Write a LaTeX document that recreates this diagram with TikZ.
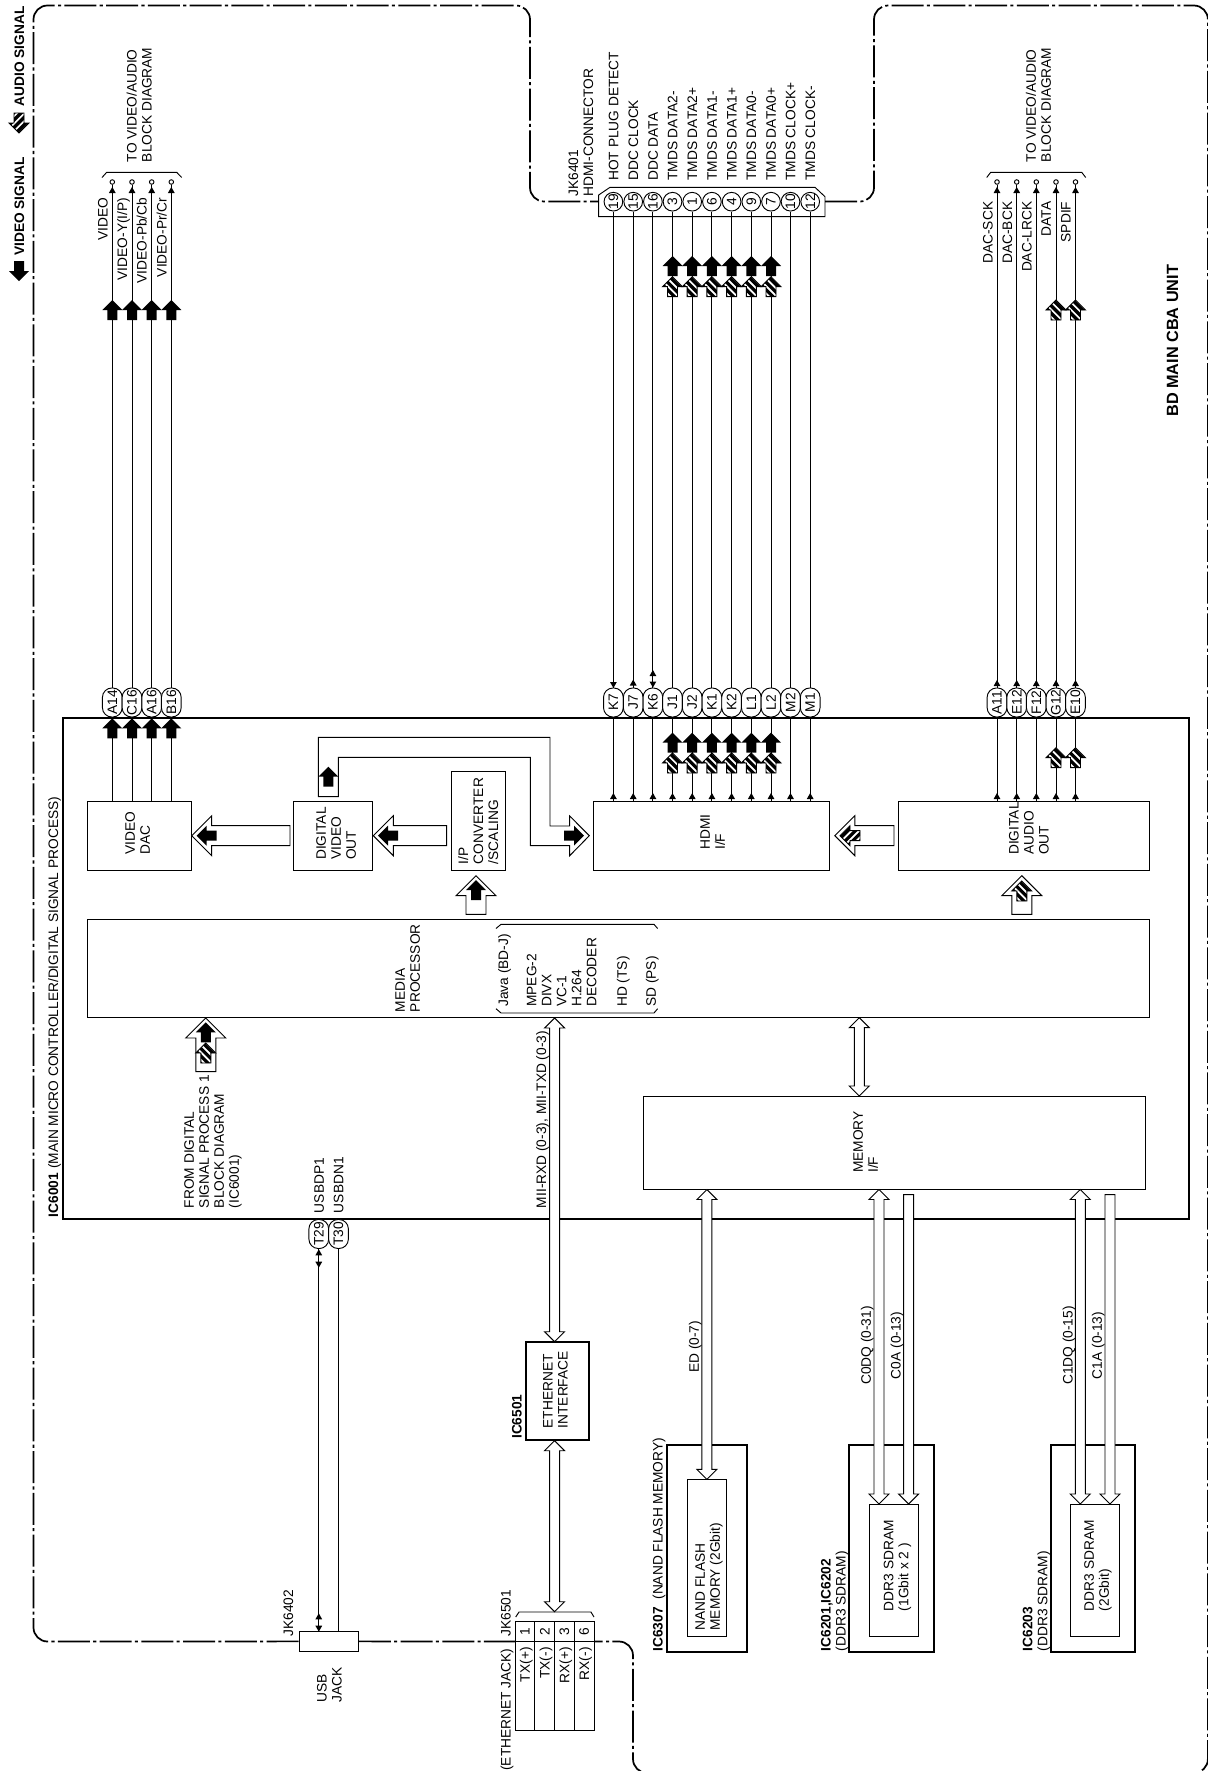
\documentclass[tikz,border=0pt]{standalone}
\usepackage{fontspec}
\setmainfont{Liberation Sans}
\usetikzlibrary{calc}
\newcommand{\headpath}{(0,0) -- (10,-10) -- (5,-10) -- (5,-20) -- (-5,-20) -- (-5,-10) -- (-10,-10) -- cycle}
\tikzset{
  textfont/.style={font=\fontsize{10.3}{11.25}\selectfont},
  boldfont/.style={font=\fontsize{10.3}{11.25}\selectfont\bfseries},
  lbl/.style={textfont,xshift=3.7pt,rotate=90,anchor=base west,align=left,inner sep=0pt},
  lbltop/.style={textfont,xshift=3.7pt,rotate=90,anchor=base east,align=left,inner sep=0pt},
  thinline/.style={line width=0.7pt},
  blockbox/.style={draw,thinline,inner sep=0pt},
  thickbox/.style={draw,line width=1.6pt,inner sep=0pt},
  pinbox/.style={draw,thinline,fill=white,textfont,rotate=90,rounded corners=7pt,minimum width=21.75pt,minimum height=14.8pt,inner sep=0pt},
  numcircle/.style={draw,thinline,fill=white,textfont,rotate=90,circle,minimum size=14pt,inner sep=0pt},
  ioend/.style={draw,thinline,fill=white,circle,minimum size=3.4pt,inner sep=0pt},
  border/.style={line width=1.3pt,rounded corners=10.5pt,dash pattern=on 24pt off 2.5pt on 2.3pt off 2.5pt},
  hollowbus/.style={draw,thinline,fill=white},
  fatarrow/.style args={#1/#2/#3}{hollowbus,to path={
    -- ($(\tikztostart)!#1!90:(\tikztotarget)$)
    -- ($(\tikztotarget)!#3!(\tikztostart)!#1!90:(\tikztotarget)$)
    -- ($(\tikztotarget)!#3!(\tikztostart)!#2!90:(\tikztotarget)$)
    -- (\tikztotarget)
    -- ($(\tikztotarget)!#3!(\tikztostart)!#2!-90:(\tikztotarget)$)
    -- ($(\tikztotarget)!#3!(\tikztostart)!#1!-90:(\tikztotarget)$)
    -- ($(\tikztostart)!#1!-90:(\tikztotarget)$) -- cycle}},
  fatboth/.style args={#1/#2/#3}{hollowbus,to path={
    -- ($(\tikztostart)!#3!(\tikztotarget)!#2!90:(\tikztotarget)$)
    -- ($(\tikztostart)!#3!(\tikztotarget)!#1!90:(\tikztotarget)$)
    -- ($(\tikztotarget)!#3!(\tikztostart)!#1!90:(\tikztotarget)$)
    -- ($(\tikztotarget)!#3!(\tikztostart)!#2!90:(\tikztotarget)$)
    -- (\tikztotarget)
    -- ($(\tikztotarget)!#3!(\tikztostart)!#2!-90:(\tikztotarget)$)
    -- ($(\tikztotarget)!#3!(\tikztostart)!#1!-90:(\tikztotarget)$)
    -- ($(\tikztostart)!#3!(\tikztotarget)!#1!-90:(\tikztotarget)$)
    -- ($(\tikztostart)!#3!(\tikztotarget)!#2!-90:(\tikztotarget)$) -- cycle}},
  bigarrow/.style={fatarrow=7.5pt/15pt/15pt},
  busarrow/.style={fatarrow=3.75pt/7.5pt/7.5pt},
  busboth/.style={fatboth=3.75pt/7.5pt/7.5pt},
  pics/solidhead/.style={code={\fill[black] \headpath;}},
  pics/hatchhead/.style={code={
    \begin{scope}
    \clip \headpath;
    \fill[white] (-12,2) rectangle (12,-22);
    \draw[black,line width=2.4pt] (-12,24) -- (12,0) (-12,16.5) -- (12,-7.5) (-12,9) -- (12,-15) (-12,1.5) -- (12,-22.5) (-12,-6) -- (12,-30) (-12,-13.5) -- (12,-37.5);
    \end{scope}
    \draw[black,thinline] \headpath;}},
  pics/tipup/.style={code={\fill[black] (0,0) -- (3.4,-6) -- (-3.4,-6) -- cycle;}},
  pics/tipdown/.style={code={\fill[black] (0,0) -- (3.4,6) -- (-3.4,6) -- cycle;}},
}
\begin{document}
\begin{tikzpicture}[x=0.75pt,y=0.75pt,yscale=-1,xscale=1]
\useasboundingbox (0,0) rectangle (1207,1771);

% Blocks
\node [thickbox,minimum width=844.4pt,minimum height=376pt] (ic6001) at (626.25,968.65) {};
\node [blockbox,minimum width=77.8pt,minimum height=52pt] (vdac) at (139.15,835.65) {};
\node [blockbox,minimum width=59.25pt,minimum height=52pt] (dvo) at (332.8,835.65) {};
\node [blockbox,minimum width=40.5pt,minimum height=74pt] (ipconv) at (478.3,821) {};
\node [blockbox,minimum width=177pt,minimum height=52pt] (hdmiif) at (711.65,835.65) {};
\node [blockbox,minimum width=187.9pt,minimum height=52pt] (dao) at (1023.75,835.65) {};
\node [blockbox,minimum width=796.3pt,minimum height=73.65pt] (media) at (618.15,968.4) {};
\node [blockbox,minimum width=376.5pt,minimum height=70pt] (memif) at (894,1142.65) {};
\node [thickbox,minimum width=47.5pt,minimum height=73.7pt] (ethif) at (557.65,1390.85) {};
\node [thickbox,minimum width=59.55pt,minimum height=155pt] (nandout) at (707,1548.3) {};
\node [blockbox,minimum width=29.25pt,minimum height=118pt] (nandin) at (707.2,1558) {};
\node [thickbox,minimum width=63.6pt,minimum height=155pt] (ddraout) at (891.4,1548.3) {};
\node [blockbox,minimum width=37.3pt,minimum height=99.4pt] (ddrain) at (893.85,1570.25) {};
\node [thickbox,minimum width=63.15pt,minimum height=155pt] (ddrbout) at (1092.9,1548.3) {};
\node [blockbox,minimum width=37pt,minimum height=99.4pt] (ddrbin) at (1095,1570.25) {};
\node [blockbox,fill=white,minimum width=44.5pt,minimum height=14.5pt] (usbjack) at (328.65,1641.35) {};

% Connector blocks
\coordinate (hdmiL) at (598.7,201.5);
\coordinate (hdmiR) at (825,201.5);
\coordinate (ethL) at (515,1641.5);
\coordinate (ethR) at (594,1641.5);
\draw [thinline,fill=white] (598.7,216.7) -- (598.7,195) -- (610,187.3) -- (815,187.3) -- (825,196.7) -- (825,216.7) -- cycle;
\draw [thinline,fill=white] (515,1621.7) rectangle (594,1730);
\draw [thinline] (515,1641.5) -- (594,1641.5) (534.7,1621.7) -- (534.7,1730) (554.5,1621.7) -- (554.5,1730) (574.3,1621.7) -- (574.3,1730);

% Unit border
\draw [border] (usbjack.west) -- (33.5,1641.5) -- (33.5,5.5) -- (530,5.5) -- (530,201.5) -- (hdmiL);
\draw [border] (hdmiR) -- (874,201.5) -- (874,5.5) -- (1207.9,5.5) -- (1207.9,1773) -- (633,1773) -- (633,1641.5) -- (ethR);
\draw [border] (usbjack.east) -- (ethL);

% Pins: video
\node [pinbox] (A14) at (112.3,702.5) {A14};
\node [pinbox] (C16) at (132,702.5) {C16};
\node [pinbox] (A16) at (151.7,702.5) {A16};
\node [pinbox] (B16) at (171.3,702.5) {B16};
% Pins: hdmi
\node [pinbox] (K7) at (613.4,702.5) {K7};
\node [pinbox] (J7) at (633.2,702.5) {J7};
\node [pinbox] (K6) at (652.9,702.5) {K6};
\node [pinbox] (J1) at (672.5,702.5) {J1};
\node [pinbox] (J2) at (692.2,702.5) {J2};
\node [pinbox] (K1) at (711.9,702.5) {K1};
\node [pinbox] (K2) at (731.6,702.5) {K2};
\node [pinbox] (L1) at (751.3,702.5) {L1};
\node [pinbox] (L2) at (771,702.5) {L2};
\node [pinbox] (M2) at (790.5,702.5) {M2};
\node [pinbox] (M1) at (810.2,702.5) {M1};
% Pins: audio
\node [pinbox] (A11) at (997,702.5) {A11};
\node [pinbox] (E12) at (1016.7,702.5) {E12};
\node [pinbox] (F12) at (1036.3,702.5) {F12};
\node [pinbox] (G12) at (1056,702.5) {G12};
\node [pinbox] (E10) at (1075.5,702.5) {E10};
% Pins: usb
\node [pinbox] (T29) at (318.8,1234) {T29};
\node [pinbox] (T30) at (338.5,1234) {T30};

% Hdmi connector circles
\node [numcircle] (c19) at (613.4,201.7) {19};
\node [numcircle] (c15) at (633.2,201.7) {15};
\node [numcircle] (c16) at (652.9,201.7) {16};
\node [numcircle] (c3) at (672.5,201.7) {3};
\node [numcircle] (c1) at (692.2,201.7) {1};
\node [numcircle] (c6) at (711.9,201.7) {6};
\node [numcircle] (c4) at (731.6,201.7) {4};
\node [numcircle] (c9) at (751.3,201.7) {9};
\node [numcircle] (c7) at (771,201.7) {7};
\node [numcircle] (c10) at (790.5,201.7) {10};
\node [numcircle] (c12) at (810.2,201.7) {12};

% Output terminals
\node [ioend] (endA14) at (112.3,182) {};
\node [ioend] (endC16) at (132,182) {};
\node [ioend] (endA16) at (151.7,182) {};
\node [ioend] (endB16) at (171.3,182) {};
\node [ioend] (endA11) at (997,182) {};
\node [ioend] (endE12) at (1016.7,182) {};
\node [ioend] (endF12) at (1036.3,182) {};
\node [ioend] (endG12) at (1056,182) {};
\node [ioend] (endE10) at (1075.5,182) {};

%Straight Lines: video
\draw [thinline] (endA14.south) -- (A14.east) (A14.west) -- (vdac.north -| A14);
\draw [thinline] (endC16.south) -- (C16.east) (C16.west) -- (vdac.north -| C16);
\draw [thinline] (endA16.south) -- (A16.east) (A16.west) -- (vdac.north -| A16);
\draw [thinline] (endB16.south) -- (B16.east) (B16.west) -- (vdac.north -| B16);
%Straight Lines: hdmi
\draw [thinline] (c19.west) -- (K7.east) (K7.west) -- (hdmiif.north -| K7);
\draw [thinline] (c15.west) -- (J7.east) (J7.west) -- (hdmiif.north -| J7);
\draw [thinline] (c16.west) -- (K6.east) (K6.west) -- (hdmiif.north -| K6);
\draw [thinline] (c3.west) -- (J1.east) (J1.west) -- (hdmiif.north -| J1);
\draw [thinline] (c1.west) -- (J2.east) (J2.west) -- (hdmiif.north -| J2);
\draw [thinline] (c6.west) -- (K1.east) (K1.west) -- (hdmiif.north -| K1);
\draw [thinline] (c4.west) -- (K2.east) (K2.west) -- (hdmiif.north -| K2);
\draw [thinline] (c9.west) -- (L1.east) (L1.west) -- (hdmiif.north -| L1);
\draw [thinline] (c7.west) -- (L2.east) (L2.west) -- (hdmiif.north -| L2);
\draw [thinline] (c10.west) -- (M2.east) (M2.west) -- (hdmiif.north -| M2);
\draw [thinline] (c12.west) -- (M1.east) (M1.west) -- (hdmiif.north -| M1);
%Straight Lines: audio
\draw [thinline] (endA11.south) -- (A11.east) (A11.west) -- (dao.north -| A11);
\draw [thinline] (endE12.south) -- (E12.east) (E12.west) -- (dao.north -| E12);
\draw [thinline] (endF12.south) -- (F12.east) (F12.west) -- (dao.north -| F12);
\draw [thinline] (endG12.south) -- (G12.east) (G12.west) -- (dao.north -| G12);
\draw [thinline] (endE10.south) -- (E10.east) (E10.west) -- (dao.north -| E10);
%Straight Lines: usb
\draw [thinline] (T29.west) -- (usbjack.north -| T29);
\draw [thinline] (T30.west) -- (usbjack.north -| T30);

%Braces
\draw [thinline] (102,177.5) -- (106.7,172.3) -- (176.7,172.3) -- (181.7,177.5);
\draw [thinline] (986.7,177.5) -- (990.7,172.3) -- (1081.7,172.3) -- (1085.7,177.5);
\draw [thinline] (496,928.5) -- (501,924.3) -- (654,924.3) -- (657.6,928.5);
\draw [thinline] (496,1008.7) -- (501,1013) -- (654,1013) -- (657.6,1008.7);
\draw [thinline] (515.7,1617) -- (519,1612) -- (591,1612) -- (594,1617);

%Small tips
\pic at (112.3,187) {tipup};
\pic at (132,187) {tipup};
\pic at (151.7,187) {tipup};
\pic at (171.3,187) {tipup};
\pic at (997,187) {tipup};
\pic at (1016.7,187) {tipup};
\pic at (1036.3,187) {tipup};
\pic at (1056,187) {tipup};
\pic at (1075.5,187) {tipup};
\pic at (613.4,688) {tipdown};
\pic at (633.2,679.5) {tipup};
\pic at (652.9,670) {tipup};
\pic at (652.9,687.5) {tipdown};
\pic at (997,680) {tipup};
\pic at (1016.7,680) {tipup};
\pic at (1036.3,680) {tipup};
\pic at (1056,680) {tipup};
\pic at (1075.5,680) {tipup};
\pic at (613.4,793) {tipup};
\pic at (633.2,793) {tipup};
\pic at (652.9,793) {tipup};
\pic at (672.5,793) {tipup};
\pic at (692.2,793) {tipup};
\pic at (711.9,793) {tipup};
\pic at (731.6,793) {tipup};
\pic at (751.3,793) {tipup};
\pic at (771,793) {tipup};
\pic at (790.5,793) {tipup};
\pic at (810.2,793) {tipup};
\pic at (997,793) {tipup};
\pic at (1016.7,793) {tipup};
\pic at (1036.3,793) {tipup};
\pic at (1056,793) {tipup};
\pic at (1075.5,793) {tipup};
\pic at (318.8,1249.3) {tipup};
\pic at (318.8,1267.7) {tipdown};
\pic at (318.8,1613.3) {tipup};
\pic at (318.8,1631.7) {tipdown};

%Signal heads: video
\pic at (112.3,300) {solidhead};
\pic at (132,300) {solidhead};
\pic at (151.7,300) {solidhead};
\pic at (171.3,300) {solidhead};
\pic at (112.3,718.3) {solidhead};
\pic at (132,718.3) {solidhead};
\pic at (151.7,718.3) {solidhead};
\pic at (171.3,718.3) {solidhead};
%Signal heads: hdmi
\pic at (672.5,276.7) {hatchhead};
\pic at (692.2,276.7) {hatchhead};
\pic at (711.9,276.7) {hatchhead};
\pic at (731.6,276.7) {hatchhead};
\pic at (751.3,276.7) {hatchhead};
\pic at (771,276.7) {hatchhead};
\pic at (672.5,256) {solidhead};
\pic at (692.2,256) {solidhead};
\pic at (711.9,256) {solidhead};
\pic at (731.6,256) {solidhead};
\pic at (751.3,256) {solidhead};
\pic at (771,256) {solidhead};
\pic at (672.5,753) {hatchhead};
\pic at (692.2,753) {hatchhead};
\pic at (711.9,753) {hatchhead};
\pic at (731.6,753) {hatchhead};
\pic at (751.3,753) {hatchhead};
\pic at (771,753) {hatchhead};
\pic at (672.5,732.7) {solidhead};
\pic at (692.2,732.7) {solidhead};
\pic at (711.9,732.7) {solidhead};
\pic at (731.6,732.7) {solidhead};
\pic at (751.3,732.7) {solidhead};
\pic at (771,732.7) {solidhead};
%Signal heads: audio
\pic at (1056,300) {hatchhead};
\pic at (1075.5,300) {hatchhead};
\pic at (1056,747.7) {hatchhead};
\pic at (1075.5,747.7) {hatchhead};
%Signal heads: legend
\pic at (19,281) [rotate=180] {solidhead};
\pic at (19,133) [rotate=180,xscale=-1] {hatchhead};

%Wide Arrows
\coordinate (dacin) at (191.7,835.7);
\coordinate (dvoleft) at (290,835.7);
\coordinate (dvoin) at (373.3,835.7);
\coordinate (ipleft) at (446.7,835.7);
\coordinate (ipin) at (476,875.7);
\coordinate (medtopa) at (476,914.3);
\coordinate (daoin) at (1021.8,875.7);
\coordinate (medtopb) at (1021.8,914.3);
\coordinate (hdmiaudin) at (834.8,835.7);
\coordinate (daoleft) at (894,835.7);
\coordinate (medbot) at (205.8,1018);
\coordinate (fromdsp) at (205.8,1071.7);
\draw [bigarrow] (dvoleft) to (dacin);
\draw [bigarrow] (ipleft) to (dvoin);
\draw [bigarrow] (medtopa) to (ipin);
\draw [bigarrow] (medtopb) to (daoin);
\draw [bigarrow] (daoleft) to (hdmiaudin);
\draw [bigarrow] (fromdsp) to (medbot);
\coordinate (dvoout) at (328.3,796.7);
\coordinate (hdmividin) at (589.3,835.7);
\draw [hollowbus] (dvoout) -- (318.3,796.7) -- (318.3,737.3) -- (550,737.3) -- (550,826) -- (569.7,826) -- (569.7,816) -- (hdmividin) -- (569.7,855.7) -- (569.7,845.7) -- (530.3,845.7) -- (530.3,757.3) -- (338.3,757.3) -- (338.3,796.7) -- cycle;
\pic at (196.7,835.7) [rotate=90] {solidhead};
\pic at (378,835.7) [rotate=90] {solidhead};
\pic at (476,880) {solidhead};
\pic at (328.3,766.7) {solidhead};
\pic at (584,835.7) [rotate=-90] {solidhead};
\pic at (840,835.7) [rotate=90] {hatchhead};
\pic at (1021.8,881) {hatchhead};
\pic at (205.8,1043) {hatchhead};
\pic at (205.8,1022.3) {solidhead};

%Bus Arrows
\coordinate (miitop) at (554.6,1018);
\coordinate (miibot) at (554.6,1341.7);
\coordinate (ethbot) at (554.6,1440.7);
\coordinate (jacktop) at (554.6,1611.7);
\coordinate (medmem) at (859.3,1017.7);
\coordinate (memmed) at (859.3,1096);
\coordinate (edtop) at (706.9,1189.5);
\coordinate (edbot) at (706.9,1479.3);
\coordinate (cadqtop) at (879,1189.5);
\coordinate (cadqbot) at (879,1504);
\coordinate (caatop) at (908.6,1194.6);
\coordinate (caabot) at (908.6,1504);
\coordinate (cbdqtop) at (1080.3,1189.5);
\coordinate (cbdqbot) at (1080.3,1504);
\coordinate (cbatop) at (1110,1194.6);
\coordinate (cbabot) at (1110,1504);
\draw [busboth] (miitop) to (miibot);
\draw [busboth] (ethbot) to (jacktop);
\draw [busboth] (medmem) to (memmed);
\draw [busboth] (edtop) to (edbot);
\draw [busboth] (cadqtop) to (cadqbot);
\draw [busarrow] (caatop) to (caabot);
\draw [busboth] (cbdqtop) to (cbdqbot);
\draw [busarrow] (cbatop) to (cbabot);

% Text Node
\node [lbl,boldfont] (sigvideo) at (19.3,256) {VIDEO SIGNAL};
\node [lbl,boldfont] (sigaudio) at (19.3,106.7) {AUDIO SIGNAL};
\node [lbl,font=\fontsize{12.2}{14}\selectfont\bfseries] (unitname) at (1173.3,417) {BD MAIN CBA UNIT};
\node [lbl] (icmain) at (53.3,1217.3) {\textbf{IC6001} (MAIN MICRO CONTROLLER/DIGITAL SIGNAL PROCESS)};
% Text Node
\node [lbl] (tovida) at (146.7,162.3) {TO VIDEO/AUDIO\\BLOCK DIAGRAM};
\node [lbl] (tovidb) at (1046,162.3) {TO VIDEO/AUDIO\\BLOCK DIAGRAM};
\node [lbltop] (nvideo) at (102.7,197.5) {VIDEO};
\node [lbltop] (nvidy) at (122.3,197.5) {VIDEO-Y(I/P)};
\node [lbltop] (nvidpb) at (141.7,197.5) {VIDEO-Pb/Cb};
\node [lbltop] (nvidpr) at (161.7,197.5) {VIDEO-Pr/Cr};
\node [lbltop] (ndacsck) at (987.7,201.5) {DAC-SCK};
\node [lbltop] (ndacbck) at (1007.3,201.5) {DAC-BCK};
\node [lbltop] (ndaclrck) at (1026.7,201.5) {DAC-LRCK};
\node [lbltop] (ndata) at (1046,201.5) {DATA};
\node [lbltop] (nspdif) at (1065.7,201.5) {SPDIF};
% Text Node
\node [lbl] (jkhdmi) at (588.3,196.7) {JK6401\\HDMI-CONNECTOR};
\node [lbl] (nhot) at (613.4,181) {HOT PLUG DETECT};
\node [lbl] (nclock) at (633.2,181) {DDC CLOCK};
\node [lbl] (nddata) at (652.9,181) {DDC DATA};
\node [lbl] (ntda) at (672.5,181) {TMDS DATA2-};
\node [lbl] (ntdb) at (692.2,181) {TMDS DATA2+};
\node [lbl] (ntdc) at (711.9,181) {TMDS DATA1-};
\node [lbl] (ntdd) at (731.6,181) {TMDS DATA1+};
\node [lbl] (ntde) at (751.3,181) {TMDS DATA0-};
\node [lbl] (ntdf) at (771,181) {TMDS DATA0+};
\node [lbl] (ntcp) at (790.5,181) {TMDS CLOCK+};
\node [lbl] (ntcn) at (810.2,181) {TMDS CLOCK-};
% Text Node
\node [lbl] (tvdac) at (145,855) {VIDEO\\DAC};
\node [lbl] (tdvo) at (351,860) {DIGITAL\\VIDEO\\OUT};
\node [lbl] (tip) at (493.3,864.3) {I/P\\CONVERTER\\/SCALING};
\node [lbl] (thdmi) at (720,850) {HDMI\\I/F};
\node [lbl] (tdao) at (1043.6,855) {DIGITAL\\AUDIO\\OUT};
\node [lbl] (tmedia) at (415,1012.3) {MEDIA\\PROCESSOR};
\node [lbl] (tjava) at (503.3,1007) {Java (BD-J)};
\node [lbl] (tdecoder) at (591.5,1007) {MPEG-2\\DIVX\\VC-1\\H.264\\DECODER};
\node [lbl] (thd) at (622,1007) {HD (TS)};
\node [lbl] (tsd) at (651,1007) {SD (PS)};
\node [lbl] (tmem) at (873,1173) {MEMORY\\I/F};
% Text Node
\node [lbl] (tfrom) at (234,1208.3) {FROM DIGITAL\\SIGNAL PROCESS 1\\BLOCK DIAGRAM\\(IC6001)};
\node [lbl] (tusbp) at (319,1213.3) {USBDP1};
\node [lbl] (tusbn) at (338.4,1213.3) {USBDN1};
\node [lbl] (tmii) at (541.2,1208.3) {MII-RXD (0-3), MII-TXD (0-3)};
\node [lbl] (ted) at (694,1373) {ED (0-7)};
\node [lbl] (tcadq) at (865.9,1385) {C0DQ (0-31)};
\node [lbl] (tcaa) at (895.8,1379.3) {C0A (0-13)};
\node [lbl] (tcbdq) at (1067.6,1385) {C1DQ (0-15)};
\node [lbl] (tcba) at (1097,1379.3) {C1A (0-13)};
% Text Node
\node [lbl,boldfont] (iceth) at (516.7,1439) {IC6501};
\node [lbl] (teth) at (562.7,1428.5) {ETHERNET\\INTERFACE};
\node [lbl] (tnand) at (715,1630.7) {NAND FLASH\\MEMORY (2Gbit)};
\node [lbl] (tddra) at (903.5,1611.4) {DDR3 SDRAM\\(1Gbit x 2 )};
\node [lbl] (tddrb) at (1104,1611.4) {DDR3 SDRAM\\(2Gbit)};
\node [lbl] (icnand) at (657.7,1651.7) {\textbf{IC6307} \ (NAND FLASH MEMORY)};
\node [lbl] (icddra) at (840.7,1651.5) {\textbf{IC6201,IC6202}\\(DDR3 SDRAM)};
\node [lbl] (icddrb) at (1042.4,1651.5) {\textbf{IC6203}\\(DDR3 SDRAM)};
% Text Node
\node [lbl] (jkusb) at (288.3,1636.7) {JK6402};
\node [lbl] (tusbjack) at (336.7,1703) {USB\\JACK};
\node [lbl] (jketh) at (505.7,1636.7) {JK6501};
\node [lbltop] (tethjack) at (505.7,1648.3) {(ETHERNET JACK)};
\node [textfont,rotate=90,inner sep=0pt] (ej1) at (525,1631.7) {1};
\node [textfont,rotate=90,inner sep=0pt] (ej2) at (544.7,1631.7) {2};
\node [textfont,rotate=90,inner sep=0pt] (ej3) at (564.5,1631.7) {3};
\node [textfont,rotate=90,inner sep=0pt] (ej6) at (584.2,1631.7) {6};
\node [lbltop] (ejtxp) at (525,1647) {TX(+)};
\node [lbltop] (ejtxn) at (544.7,1647) {TX(-)};
\node [lbltop] (ejrxp) at (564.5,1647) {RX(+)};
\node [lbltop] (ejrxn) at (584.2,1647) {RX(-)};

\end{tikzpicture}
\end{document}
